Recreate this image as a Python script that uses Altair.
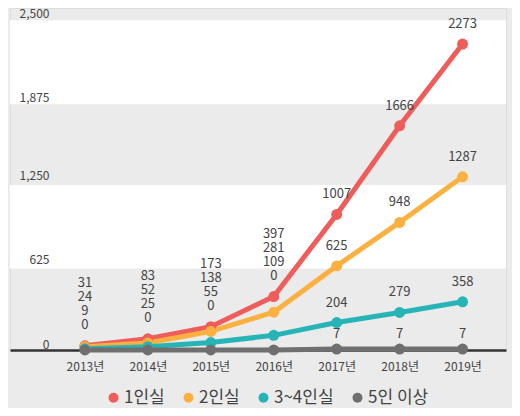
import pandas as pd
import altair as alt

YEARS = [2013, 2014, 2015, 2016, 2017, 2018, 2019]
SERIES = ["1인실", "2인실", "3~4인실", "5인 이상"]
COLORS = ["#ef5d5b", "#fbb03f", "#27b4b6", "#6f6f6f"]
ONE_ROOM = [31, 83, 173, 397, 1007, 1666, 2273]
TWO_ROOM = [24, 52, 138, 281, 625, 948, 1287]
THREE_FOUR_ROOM = [9, 25, 55, 109, 204, 279, 358]
FIVE_PLUS = [0, 0, 0, 0, 7, 7, 7]
Y_TICKS = [0, 625, 1250, 1875, 2500]
BAND_TOP = [2450, 1225]
BAND_BOTTOM = [1825, 605]

FONT = "Noto Sans CJK KR"
TEXT_COLOR = "#444444"

rows = []
for name, values in zip(SERIES, [ONE_ROOM, TWO_ROOM, THREE_FOUR_ROOM, FIVE_PLUS]):
    for year, value in zip(YEARS, values):
        rows.append({"year": year, "series": name, "value": value})
df = pd.DataFrame(rows)
bands_df = pd.DataFrame({"top": BAND_TOP, "bottom": BAND_BOTTOM})

x_scale = alt.Scale(domain=[2011.81, 2019.69], nice=False, zero=False)
y_scale = alt.Scale(domain=[0, 2541], nice=False)
color_scale = alt.Scale(domain=SERIES, range=COLORS)

x_axis = alt.Axis(
    values=YEARS,
    labelExpr="datum.value + '년'",
    ticks=False,
    grid=False,
    domainColor="#333333",
    domainWidth=2.5,
    labelPadding=11,
    labelFont=FONT,
    labelFontSize=12,
    labelColor=TEXT_COLOR,
    labelOverlap=False,
    labelFlush=False,
    title=None,
)
y_axis = alt.Axis(
    values=Y_TICKS,
    labelExpr="format(datum.value, ',')",
    ticks=False,
    domain=False,
    grid=False,
    labelAlign="right",
    labelPadding=-39,
    # upper labels sit on their value, the lower ones a bit above it
    labelOffset={"condition": {"test": "datum.value >= 1875", "value": 0}, "value": -6},
    labelFont=FONT,
    labelFontSize=12,
    labelColor=TEXT_COLOR,
    labelOverlap=False,
    labelFlush=False,
    title=None,
    zindex=1,
)


def x_enc():
    return alt.X("year:Q", scale=x_scale, axis=x_axis)


def y_enc(field="value:Q"):
    return alt.Y(field, scale=y_scale, axis=y_axis)


bands = (
    alt.Chart(bands_df)
    .mark_rect(color="white")
    .encode(y=y_enc("top:Q"), y2="bottom:Q")
)

lines = (
    alt.Chart(df)
    .mark_line(strokeWidth=5)
    .encode(
        x=x_enc(),
        y=y_enc(),
        color=alt.Color("series:N", scale=color_scale, sort=SERIES, legend=None),
    )
)

points = (
    alt.Chart(df)
    .mark_circle(size=120, opacity=1)
    .encode(
        x=x_enc(),
        y=y_enc(),
        color=alt.Color(
            "series:N",
            scale=color_scale,
            sort=SERIES,
            legend=alt.Legend(
                title=None,
                orient="none",
                legendX=95,
                legendY=381,
                direction="horizontal",
                symbolType="circle",
                symbolSize=100,
                labelFont=FONT,
                labelFontSize=17,
                labelColor=TEXT_COLOR,
                labelOffset=2,
                columnPadding=15,
            ),
        ),
    )
)

# 2017~2019: each value right above its own point
late_labels = []
for name in SERIES:
    late_labels.append(
        alt.Chart(df)
        .transform_filter("datum.year >= 2017")
        .transform_filter(alt.datum.series == name)
        .mark_text(dy=-15 if name == "5인 이상" else -20,
                   font=FONT, fontSize=13, color=TEXT_COLOR)
        .encode(x=x_enc(), y=y_enc(), text="value:Q")
    )

# 2013~2016: values stacked above the top point
early_base = (
    alt.Chart(df)
    .transform_joinaggregate(top="max(value)", groupby=["year"])
    .transform_filter("datum.year <= 2016")
)
early_labels = []
for k, name in enumerate(SERIES):
    early_labels.append(
        early_base
        .transform_filter(alt.datum.series == name)
        .mark_text(dy=-63 + 14 * k, font=FONT, fontSize=13, color=TEXT_COLOR)
        .encode(x=x_enc(), y=y_enc("top:Q"), text="value:Q")
    )

chart = (
    alt.layer(bands, lines, points, *late_labels, *early_labels)
    .resolve_legend(color="independent")
    .properties(
        width=496,
        height=342,
        padding={"left": 2, "top": 0, "right": 6, "bottom": 58},
        autosize=alt.AutoSizeParams(type="none"),
        background="#ebebeb",
    )
    .configure_view(strokeWidth=0)
    .configure(font=FONT)
)

chart.save("out.html", embed_options={"renderer": "svg", "actions": False})
